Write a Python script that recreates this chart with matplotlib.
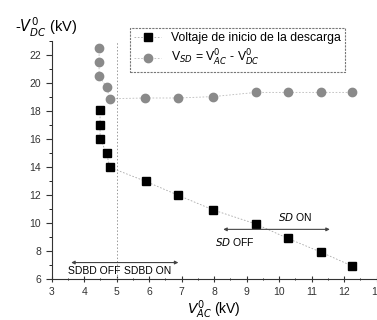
import matplotlib.pyplot as plt
from matplotlib.ticker import MultipleLocator

plt.rcParams['font.family'] = ['Liberation Sans', 'DejaVu Sans']

# Voltaje de inicio de la descarga (squares)
v_ac_inicio = [4.49, 4.49, 4.49, 4.69, 4.79, 5.89, 6.9, 7.98, 9.29, 10.26, 11.28, 12.25]
v_dc_inicio = [18.1, 17.05, 16.05, 15.0, 14.0, 13.0, 12.0, 10.95, 9.95, 8.93, 7.95, 6.95]

# V_SD = V0_AC - V0_DC (circles)
v_ac_sd = [4.46, 4.46, 4.46, 4.69, 4.79, 5.87, 6.9, 7.97, 9.29, 10.26, 11.28, 12.25]
v_sd = [22.55, 21.55, 20.5, 19.75, 18.9, 18.95, 18.95, 19.05, 19.35, 19.35, 19.35, 19.35]

fig = plt.figure(figsize=(3.77, 3.2), dpi=100)
ax = fig.add_axes([0.137, 0.127, 0.862, 0.744])

ax.plot(v_ac_inicio, v_dc_inicio, ls=(0, (2, 2)), lw=0.6, color='#aaaaaa',
        marker='s', ms=6, mfc='black', mec='black',
        label='Voltaje de inicio de la descarga')
ax.plot(v_ac_sd, v_sd, ls=(0, (2, 2)), lw=0.6, color='#bbbbbb',
        marker='o', ms=6, mfc='#8a8a8a', mec='#8a8a8a',
        label=r'V$_{SD}$ = V$^{0}_{AC}$ - V$^{0}_{DC}$')

# limite SDBD
ax.axvline(5.0, ymin=0, ymax=1, ls=(0, (1.5, 2)), lw=0.7, color='#999999')

ax.annotate('', xy=(3.6, 7.2), xytext=(6.9, 7.2),
            arrowprops=dict(arrowstyle='<|-|>', color='#444444', lw=0.8,
                            mutation_scale=5, shrinkA=0, shrinkB=0))
ax.text(4.3, 6.6, 'SDBD OFF', fontsize=7.5, ha='center', va='center')
ax.text(5.95, 6.6, 'SDBD ON', fontsize=7.5, ha='center', va='center')

ax.annotate('', xy=(8.28, 9.57), xytext=(11.56, 9.57),
            arrowprops=dict(arrowstyle='<|-|>', color='#444444', lw=0.8,
                            mutation_scale=5, shrinkA=0, shrinkB=0))
ax.text(10.5, 10.45, r'$\mathit{SD}$ ON', fontsize=7.5, ha='center', va='center')
ax.text(8.65, 8.7, r'$\mathit{SD}$ OFF', fontsize=7.5, ha='center', va='center')

ax.set_xlim(3, 13)
ax.set_ylim(6, 23)
ax.xaxis.set_major_locator(MultipleLocator(1))
ax.xaxis.set_minor_locator(MultipleLocator(0.5))
ax.yaxis.set_major_locator(MultipleLocator(2))
ax.yaxis.set_minor_locator(MultipleLocator(1))
ax.set_yticks(range(6, 23, 2))
ax.tick_params(axis='both', which='major', labelsize=7.5, length=4, width=0.8,
               direction='out', colors='#333333')
ax.tick_params(axis='both', which='minor', length=2, width=0.6, direction='out')
ax.tick_params(axis='x', which='both', direction='inout')
for s in ['top', 'right']:
    ax.spines[s].set_visible(False)
for s in ['left', 'bottom']:
    ax.spines[s].set_linewidth(0.8)
    ax.spines[s].set_color('#333333')

ax.set_xlabel(r'$V^{0}_{AC}$ (kV)', fontsize=10, labelpad=1)
fig.text(0.04, 0.915, r'-$V^{0}_{DC}$ (kV)', fontsize=10.5, ha='left', va='center')

leg = ax.legend(loc='upper left', bbox_to_anchor=(0.222, 1.081), fontsize=8.8,
                frameon=True, fancybox=False, edgecolor='#555555',
                handlelength=2.2, borderpad=0.35, labelspacing=0.3)
leg.get_frame().set_linewidth(0.8)
leg.get_frame().set_linestyle((0, (2, 1)))

fig.savefig('out.png', dpi=100)
